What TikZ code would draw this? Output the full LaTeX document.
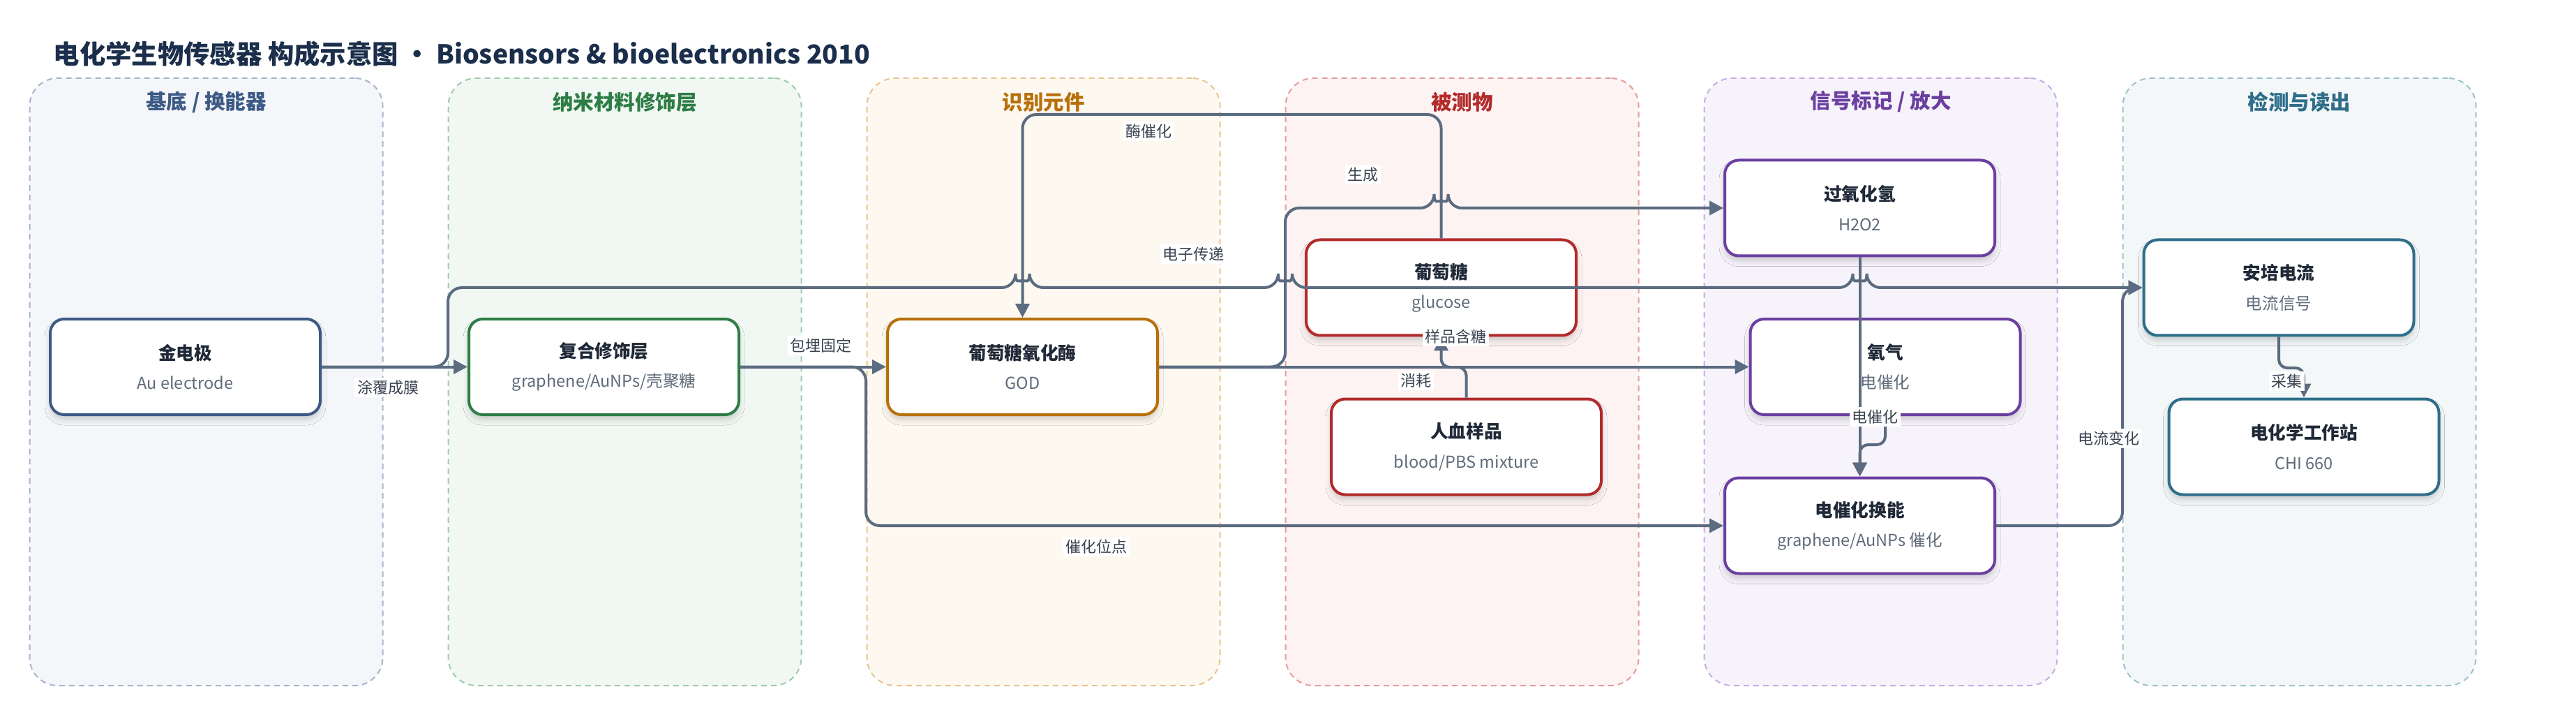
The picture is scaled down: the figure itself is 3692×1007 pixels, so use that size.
\documentclass[tikz,border=0pt]{standalone}
\usepackage{fontspec}
\setmainfont{Noto Sans CJK SC}
\usetikzlibrary{arrows.meta,shadows.blur}

\definecolor{edgegray}{HTML}{5B6B80}
\definecolor{tagtext}{HTML}{3A4350}
\definecolor{subgray}{HTML}{5F6B7A}
\definecolor{titlenavy}{HTML}{1B2E4B}
\definecolor{boxtext}{HTML}{1F2937}
\definecolor{laneAfill}{HTML}{F4F6FA}\definecolor{laneAedge}{HTML}{A7B4CB}\definecolor{laneA}{HTML}{3D5A85}
\definecolor{laneBfill}{HTML}{F1F8F3}\definecolor{laneBedge}{HTML}{9FCAAE}\definecolor{laneB}{HTML}{2E7D46}
\definecolor{laneCfill}{HTML}{FDF8F0}\definecolor{laneCedge}{HTML}{E8C48F}\definecolor{laneC}{HTML}{B8700A}
\definecolor{laneDfill}{HTML}{FDF3F3}\definecolor{laneDedge}{HTML}{E59C9C}\definecolor{laneD}{HTML}{B22A2A}
\definecolor{laneEfill}{HTML}{F7F3FB}\definecolor{laneEedge}{HTML}{C6ADE2}\definecolor{laneE}{HTML}{6B3FA0}
\definecolor{laneFfill}{HTML}{F3F7F8}\definecolor{laneFedge}{HTML}{9FC1CD}\definecolor{laneF}{HTML}{2F6E8A}

\newcommand{\BoxText}[2]{{\bfseries\fontsize{7.3pt}{9.7pt}\selectfont\color{boxtext}#1}\\{\fontsize{6.7pt}{9.7pt}\selectfont\color{subgray}#2}}

\begin{document}
\begin{tikzpicture}
[
x=0.1mm, y=-0.1mm,
Lane/.style={rectangle, rounded corners=4mm, line width=0.2mm, dash pattern=on 0.8mm off 0.6mm, minimum width=50.6mm, minimum height=87mm},
LaneTitle/.style={font=\bfseries\fontsize{8.4pt}{10pt}\selectfont},
Box/.style={rectangle, rounded corners=2mm, fill=white, line width=0.4mm, minimum width=38.7mm, minimum height=13.7mm, align=center,
  blur shadow={shadow xshift=0mm, shadow yshift=-0.7mm, shadow blur steps=6, shadow blur radius=0.8mm, shadow opacity=18}},
Flow/.style={draw=edgegray, line width=0.4mm, rounded corners=2mm, -{Triangle[length=2mm,width=2mm]}},
Jog/.style={Flow, rounded corners=1.2mm},
Tag/.style={fill=white, inner sep=1pt, text=tagtext, font=\fontsize{6.26pt}{7pt}\selectfont},
]

\fill[white] (0,0) rectangle (3692,1007);
\useasboundingbox (0,0) rectangle (3692,1007);

\node[anchor=west, inner sep=0pt, text=titlenavy, font=\bfseries\fontsize{10.63pt}{12pt}\selectfont] (title) at (76,77)
  {电化学生物传感器 构成示意图 · Biosensors \& bioelectronics 2010};

% lanes
\node[Lane, fill=laneAfill, draw=laneAedge] (lane1) at (295.5,547) {};
\node[Lane, fill=laneBfill, draw=laneBedge] (lane2) at (895.5,547) {};
\node[Lane, fill=laneCfill, draw=laneCedge] (lane3) at (1495.5,547) {};
\node[Lane, fill=laneDfill, draw=laneDedge] (lane4) at (2095.5,547) {};
\node[Lane, fill=laneEfill, draw=laneEedge] (lane5) at (2695.5,547) {};
\node[Lane, fill=laneFfill, draw=laneFedge] (lane6) at (3295.5,547) {};

\node[LaneTitle, text=laneA] (head1) at (295.5,146) {基底 / 换能器};
\node[LaneTitle, text=laneB] (head2) at (895.5,146) {纳米材料修饰层};
\node[LaneTitle, text=laneC] (head3) at (1495.5,146) {识别元件};
\node[LaneTitle, text=laneD] (head4) at (2095.5,146) {被测物};
\node[LaneTitle, text=laneE] (head5) at (2695.5,146) {信号标记 / 放大};
\node[LaneTitle, text=laneF] (head6) at (3295.5,146) {检测与读出};

% boxes
\node[Box, draw=laneA] (gold) at (265.5,525.5) {\BoxText{金电极}{Au electrode}};
\node[Box, draw=laneB] (film) at (865.5,525.5) {\BoxText{复合修饰层}{graphene/AuNPs/壳聚糖}};
\node[Box, draw=laneC] (god) at (1465.5,525.5) {\BoxText{葡萄糖氧化酶}{GOD}};
\node[Box, draw=laneD] (glucose) at (2065.5,412) {\BoxText{葡萄糖}{glucose}};
\node[Box, draw=laneD] (blood) at (2101.5,640) {\BoxText{人血样品}{blood/PBS mixture}};
\node[Box, draw=laneE] (hperox) at (2665.5,298) {\BoxText{过氧化氢}{H2O2}};
\node[Box, draw=laneE] (oxygen) at (2702,525.5) {\BoxText{氧气}{电催化}};
\node[Box, draw=laneE] (transduce) at (2665.5,753) {\BoxText{电催化换能}{graphene/AuNPs 催化}};
\node[Box, draw=laneF] (amp) at (3266,412) {\BoxText{安培电流}{电流信号}};
\node[Box, draw=laneF] (station) at (3302,640) {\BoxText{电化学工作站}{CHI 660}};

% connectors
\draw[Flow] (gold.east) -- (film.west);
\draw[Flow] (gold.east) -- (642,525.5) -- (642,412) -- (1455.5,412) arc[start angle=180, end angle=360, radius=10]
  -- (1832,412) arc[start angle=180, end angle=360, radius=10]
  -- (2655.5,412) arc[start angle=180, end angle=360, radius=10] -- (amp.west);
\draw[Flow] (film.east) -- (god.west);
\draw[Flow] (film.east) -- (1241,525.5) -- (1241,753) -- (transduce.west);
\draw[Flow] (glucose.north) -- (2065.5,164) -- (1465.5,164) -- (god.north);
\draw[Flow] (god.east) -- (1842,525.5) -- (1842,298) -- (2055.5,298) arc[start angle=180, end angle=360, radius=10] -- (hperox.west);
\draw[Flow] (god.east) -- (oxygen.west);
\draw[Jog] (blood.north) -- (2101.5,526) -- (2065.5,526) -- (glucose.south);
\draw[Flow] (hperox.south) -- (transduce.north);
\draw[Jog] (oxygen.south) -- (2702,637) -- (2665.5,637) -- (transduce.north);
\draw[Flow] (transduce.east) -- (3042,753) -- (3042,412) -- (amp.west);
\draw[Jog] (amp.south) -- (3266,527) -- (3302,527) -- (station.north);

% connector labels
\node[Tag] (tag1) at (556,555) {涂覆成膜};
\node[Tag] (tag2) at (1710,364) {电子传递};
\node[Tag] (tag3) at (1176,495) {包埋固定};
\node[Tag] (tag4) at (1571,783) {催化位点};
\node[Tag] (tag5) at (1646,188) {酶催化};
\node[Tag] (tag6) at (1953,250) {生成};
\node[Tag] (tag7) at (2029,545) {消耗};
\node[Tag] (tag8) at (2086,482) {样品含糖};
\node[Tag] (tag9) at (2687,597) {电催化};
\node[Tag] (tag10) at (3022,628) {电流变化};
\node[Tag] (tag11) at (3277,546) {采集};

\end{tikzpicture}
\end{document}
